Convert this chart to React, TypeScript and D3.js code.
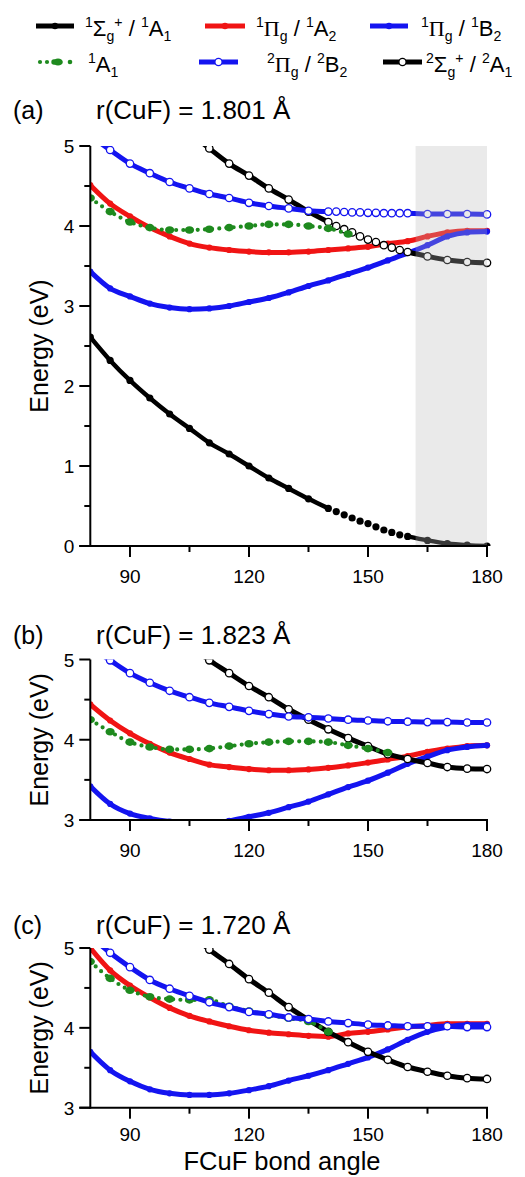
import React from 'react';
import * as d3 from 'd3';

// ---------------- data ----------------
const angles = [80, 85, 90, 95, 100, 105, 110, 115, 120, 125, 130, 135, 140, 145, 150, 155, 160, 165, 170, 175, 180];
const anglesS2 = [105, 110, 115, 120, 125, 130, 135, 140, 145, 150, 155, 160, 165, 170, 175, 180];
const denseAngles = [140, 142, 144, 146, 148, 150, 152, 154, 156, 158, 160];

// panel (a) r = 1.801
const aS1 = [2.61, 2.32, 2.07, 1.85, 1.65, 1.47, 1.29, 1.15, 1.0, 0.85, 0.72, 0.59, 0.47, 0.37, 0.28, 0.19, 0.12, 0.07, 0.03, 0.01, 0.0];
const aS1Dense = [0.47, 0.43, 0.39, 0.35, 0.31, 0.28, 0.24, 0.2, 0.17, 0.14, 0.12];
const aPiA2 = [4.51, 4.28, 4.12, 3.98, 3.87, 3.78, 3.73, 3.7, 3.68, 3.67, 3.67, 3.68, 3.7, 3.72, 3.74, 3.78, 3.81, 3.87, 3.92, 3.94, 3.94];
const aPiB2 = [3.43, 3.22, 3.12, 3.03, 2.98, 2.96, 2.97, 3.0, 3.05, 3.1, 3.17, 3.25, 3.32, 3.4, 3.48, 3.57, 3.66, 3.76, 3.87, 3.92, 3.93];
const aA1 = [4.35, 4.18, 4.05, 3.98, 3.95, 3.95, 3.96, 3.98, 4.0, 4.02, 4.02, 4.0, 3.97, 3.9];
const aPi2B2 = [5.13, 4.95, 4.78, 4.66, 4.55, 4.47, 4.4, 4.35, 4.29, 4.25, 4.22, 4.19, 4.18, 4.17, 4.165, 4.16, 4.16, 4.15, 4.15, 4.15, 4.145];
const aPi2B2Dense = [4.18, 4.18, 4.175, 4.17, 4.17, 4.165, 4.165, 4.16, 4.16, 4.16, 4.16];
const aS2A1 = [5.17, 4.97, 4.78, 4.63, 4.47, 4.33, 4.18, 4.05, 3.94, 3.83, 3.745, 3.675, 3.62, 3.575, 3.55, 3.54];
const aS2A1Dense = [4.05, 4.0, 3.96, 3.92, 3.87, 3.83, 3.8, 3.76, 3.73, 3.7, 3.675];

// panel (b) r = 1.823
const bPiA2 = [4.44, 4.24, 4.08, 3.95, 3.84, 3.76, 3.69, 3.66, 3.635, 3.62, 3.62, 3.63, 3.65, 3.68, 3.715, 3.755, 3.795, 3.85, 3.89, 3.92, 3.93];
const bPiB2 = [3.42, 3.2, 3.08, 3.02, 2.98, 2.96, 2.96, 2.99, 3.04, 3.09, 3.16, 3.23, 3.32, 3.41, 3.49, 3.59, 3.7, 3.79, 3.87, 3.91, 3.93];
const bA1 = [4.25, 4.1, 3.97, 3.91, 3.88, 3.88, 3.89, 3.92, 3.95, 3.97, 3.98, 3.98, 3.97, 3.93, 3.89, 3.84];
const bPi2B2 = [5.15, 4.99, 4.83, 4.71, 4.61, 4.53, 4.46, 4.41, 4.36, 4.32, 4.29, 4.28, 4.265, 4.25, 4.24, 4.23, 4.225, 4.22, 4.22, 4.215, 4.215];
const bS2A1 = [5.17, 4.99, 4.83, 4.67, 4.53, 4.38, 4.25, 4.13, 4.02, 3.92, 3.82, 3.76, 3.71, 3.66, 3.64, 3.635];

// panel (c) r = 1.720
const cPiA2 = [5.0, 4.72, 4.53, 4.38, 4.25, 4.15, 4.08, 4.02, 3.97, 3.94, 3.92, 3.9, 3.89, 3.93, 3.95, 3.98, 4.01, 4.03, 4.05, 4.05, 4.05];
const cPiB2 = [3.7, 3.47, 3.33, 3.23, 3.18, 3.16, 3.16, 3.18, 3.22, 3.27, 3.34, 3.4, 3.47, 3.55, 3.63, 3.73, 3.85, 3.95, 4.01, 4.04, 4.04];
const cA1 = [4.83, 4.62, 4.47, 4.39, 4.36, 4.35, 4.35, 4.27, 4.21, 4.16, 4.12, 4.08, 3.95];
const cPi2B2 = [5.15, 4.94, 4.76, 4.6, 4.49, 4.4, 4.32, 4.26, 4.2, 4.17, 4.13, 4.11, 4.08, 4.06, 4.04, 4.03, 4.02, 4.02, 4.02, 4.01, 4.01];
const cS2A1 = [5.2, 4.98, 4.8, 4.61, 4.44, 4.26, 4.1, 3.95, 3.82, 3.7, 3.6, 3.51, 3.45, 3.4, 3.37, 3.36];

const xMajor = [90, 120, 150, 180];
const xMinor = [105, 135, 165];
const aYMajor = [0, 1, 2, 3, 4, 5];
const aYMinor = [0.5, 1.5, 2.5, 3.5, 4.5];
const bcYMajor = [3, 4, 5];
const bcYMinor = [3.5, 4.5];
const shadeRange = [162, 180];

// ---------------- style ----------------
const FONT = "'Liberation Sans', Arial, sans-serif";
const SERIF = "'Liberation Serif', 'Times New Roman', serif";
const RED = '#f01414';
const BLUE = '#1414f0';
const BLACK = '#000000';
const GREEN = '#1e8a1e';

type P = [number, number];
const zip = (xs: number[], ys: number[]): P[] => ys.map((v, i) => [xs[i], v]);

const x = d3.scaleLinear().domain([80, 180]).range([90.3, 487]);

function Series({ data, kind, color, y, clip, dense, denseDotsOnly, width = 5, r }: any) {
  const line = d3.line<P>().x(d => x(d[0])).y(d => y(d[1])).curve(d3.curveMonotoneX);
  let parts: P[][] = [data];
  if (dense) {
    const a0 = dense[0][0];
    const a1 = dense[dense.length - 1][0];
    parts = [data.filter((d: P) => d[0] <= a0), data.filter((d: P) => d[0] >= a1)];
  }
  const markerR = r ?? (kind === 'open' ? 3.7 : kind === 'green' ? 3.8 : 3.1);
  const marker = (d: P, i: number, key: string) =>
    kind === 'open' ? (
      <circle key={key + i} cx={x(d[0])} cy={y(d[1])} r={markerR} fill="#fff" stroke={color} strokeWidth={1.3} />
    ) : kind === 'green' ? (
      <ellipse key={key + i} cx={x(d[0])} cy={y(d[1])} rx={markerR + 0.8} ry={markerR} fill={color} />
    ) : (
      <circle key={key + i} cx={x(d[0])} cy={y(d[1])} r={markerR} fill={color} />
    );
  return (
    <g clipPath={`url(#${clip})`}>
      {parts.map((pd, k) => (
        <path
          key={'l' + k}
          d={line(pd) || ''}
          fill="none"
          stroke={color}
          strokeWidth={kind === 'green' ? 4.2 : width}
          strokeLinecap={kind === 'green' ? 'round' : 'butt'}
          strokeDasharray={kind === 'green' ? '0 7.2' : undefined}
        />
      ))}
      {dense && !denseDotsOnly && (
        <path d={line(dense) || ''} fill="none" stroke={color} strokeWidth={1.8} />
      )}
      {dense && dense.map((d: P, i: number) => marker(d, i, 'dn'))}
      {parts.map((pd, k) => pd.filter(d => !dense || (d[0] !== dense[0][0] && d[0] !== dense[dense.length - 1][0])).map((d, i) => marker(d, i, 'm' + k)))}
    </g>
  );
}

function Axes({ y, top, bottom, yMajor, yMinor, labelDy }: any) {
  const x0 = x(80);
  const x1 = x(180);
  return (
    <g stroke="#000" strokeWidth={2} fill="none">
      <line x1={x0} y1={top} x2={x0} y2={bottom + 1} />
      <line x1={x0 - 11} y1={bottom} x2={x1 + 1} y2={bottom} />
      {yMajor.map((v: number) => (
        <line key={'ym' + v} x1={x0 - 11} x2={x0} y1={y(v)} y2={y(v)} />
      ))}
      {yMinor.map((v: number) => (
        <line key={'yn' + v} x1={x0 - 6} x2={x0} y1={y(v)} y2={y(v)} />
      ))}
      {xMajor.map(v => (
        <line key={'xm' + v} x1={x(v)} x2={x(v)} y1={bottom} y2={bottom + 11} />
      ))}
      {xMinor.map(v => (
        <line key={'xn' + v} x1={x(v)} x2={x(v)} y1={bottom} y2={bottom + 6} />
      ))}
      <g stroke="none" fill="#000" fontFamily={FONT} fontSize={19}>
        {yMajor.map((v: number) => (
          <text key={'yl' + v} x={x0 - 16} y={y(v) + 7} textAnchor="end">{v}</text>
        ))}
        {xMajor.map(v => (
          <text key={'xl' + v} x={x(v)} y={bottom + labelDy} textAnchor="middle">{v}</text>
        ))}
      </g>
    </g>
  );
}

type Part = [string, 'n' | 'sup' | 'sub' | 'serif'];
function RichText({ x0, y0, parts, size }: { x0: number; y0: number; parts: Part[]; size: number }) {
  let cur = 0;
  const small = size * 0.64;
  return (
    <text x={x0} y={y0} fontFamily={FONT} fontSize={size} fill="#000">
      {parts.map(([t, k], i) => {
        const target = k === 'sup' ? -size * 0.38 : k === 'sub' ? size * 0.26 : 0;
        const dy = target - cur;
        cur = target;
        return (
          <tspan
            key={i}
            dy={dy}
            fontSize={k === 'sup' || k === 'sub' ? small : size}
            fontFamily={k === 'serif' ? SERIF : FONT}
          >
            {t}
          </tspan>
        );
      })}
    </text>
  );
}

function LegendItem({ lx0, lx1, ly, tx, kind, color, parts }: any) {
  const cx = (lx0 + lx1) / 2;
  return (
    <g>
      {kind === 'green' ? (
        <g fill={color}>
          <circle cx={lx0 + 2} cy={ly} r={2.1} />
          <circle cx={lx0 + 9} cy={ly} r={2.1} />
          <circle cx={lx0 + 16} cy={ly} r={2.7} />
          <ellipse cx={cx + 3} cy={ly} rx={4.8} ry={3.6} />
          <circle cx={lx1 - 2} cy={ly} r={2.3} />
        </g>
      ) : (
        <g>
          <line x1={lx0} x2={lx1} y1={ly} y2={ly} stroke={color} strokeWidth={5} />
          {kind === 'open' ? (
            <circle cx={cx} cy={ly} r={3.6} fill="#fff" stroke={color} strokeWidth={1.3} />
          ) : (
            <circle cx={cx} cy={ly} r={3.2} fill={color} />
          )}
        </g>
      )}
      <RichText x0={tx} y0={ly + 9.5} parts={parts} size={22} />
    </g>
  );
}

export default function App() {
  const yA = d3.scaleLinear().domain([0, 5]).range([546, 146]);
  const yB = d3.scaleLinear().domain([3, 5]).range([820, 659.5]);
  const yC = d3.scaleLinear().domain([3, 5]).range([1107.7, 948]);

  const panels = [
    { id: 'a', y: yA, top: 146, bottom: 546, yMajor: aYMajor, yMinor: aYMinor, titleY: 119, label: '(a)', title: 'r(CuF) = 1.801 Å',
      red: aPiA2, blueF: aPiB2, green: aA1, blueO: aPi2B2, blackO: aS2A1, labelDy: 37 },
    { id: 'b', y: yB, top: 659.5, bottom: 820, yMajor: bcYMajor, yMinor: bcYMinor, titleY: 644, label: '(b)', title: 'r(CuF) = 1.823 Å',
      red: bPiA2, blueF: bPiB2, green: bA1, blueO: bPi2B2, blackO: bS2A1, labelDy: 37 },
    { id: 'c', y: yC, top: 948, bottom: 1107.7, yMajor: bcYMajor, yMinor: bcYMinor, titleY: 934, label: '(c)', title: 'r(CuF) = 1.720 Å',
      red: cPiA2, blueF: cPiB2, green: cA1, blueO: cPi2B2, blackO: cS2A1, labelDy: 33 },
  ];

  return (
    <svg width={525} height={1177} style={{ position: 'absolute', left: 0, top: 0, background: '#fff' }}>
      <defs>
        {panels.map(p => (
          <clipPath id={'clip' + p.id} key={p.id}>
            <rect x={x(80)} y={p.top} width={x(180) - x(80) + 6} height={p.bottom - p.top} />
          </clipPath>
        ))}
      </defs>

      {/* legend */}
      <LegendItem lx0={36} lx1={74} ly={26} tx={85} kind="filled" color={BLACK}
        parts={[['1', 'sup'], ['Σ', 'n'], ['g', 'sub'], ['+', 'sup'], [' / ', 'n'], ['1', 'sup'], ['A', 'n'], ['1', 'sub']]} />
      <LegendItem lx0={205} lx1={245} ly={26} tx={256} kind="filled" color={RED}
        parts={[['1', 'sup'], ['Π', 'serif'], ['g', 'sub'], [' / ', 'n'], ['1', 'sup'], ['A', 'n'], ['2', 'sub']]} />
      <LegendItem lx0={370} lx1={408} ly={26} tx={421} kind="filled" color={BLUE}
        parts={[['1', 'sup'], ['Π', 'serif'], ['g', 'sub'], [' / ', 'n'], ['1', 'sup'], ['B', 'n'], ['2', 'sub']]} />
      <LegendItem lx0={38} lx1={72} ly={62} tx={88} kind="green" color={GREEN}
        parts={[['1', 'sup'], ['A', 'n'], ['1', 'sub']]} />
      <LegendItem lx0={199} lx1={238} ly={62} tx={267} kind="open" color={BLUE}
        parts={[['2', 'sup'], ['Π', 'serif'], ['g', 'sub'], [' / ', 'n'], ['2', 'sup'], ['B', 'n'], ['2', 'sub']]} />
      <LegendItem lx0={383} lx1={422} ly={62} tx={426} kind="open" color={BLACK}
        parts={[['2', 'sup'], ['Σ', 'n'], ['g', 'sub'], ['+', 'sup'], [' / ', 'n'], ['2', 'sup'], ['A', 'n'], ['1', 'sub']]} />

      {panels.map(p => {
        const isA = p.id === 'a';
        const clip = 'clip' + p.id;
        return (
          <g key={p.id}>
            <text x={13} y={p.titleY} fontFamily={FONT} fontSize={25}>{p.label}</text>
            <text x={96} y={p.titleY} fontFamily={FONT} fontSize={26}>{p.title}</text>

            <Series data={zip(angles, p.red)} kind="filled" color={RED} y={p.y} clip={clip} />
            <Series data={zip(angles, p.blueF)} kind="filled" color={BLUE} y={p.y} clip={clip} />
            <Series data={zip(anglesS2, p.blackO)} kind="open" color={BLACK} y={p.y} clip={clip}
              dense={isA ? zip(denseAngles, aS2A1Dense) : undefined} />
            <Series data={zip(angles, p.green)} kind="green" color={GREEN} y={p.y} clip={clip} />
            <Series data={zip(angles, p.blueO)} kind="open" color={BLUE} y={p.y} clip={clip}
              dense={isA ? zip(denseAngles, aPi2B2Dense) : undefined} />
            {isA && (
              <Series data={zip(angles, aS1)} kind="filled" color={BLACK} y={p.y} clip={clip} width={4.5} r={3.6}
                dense={zip(denseAngles, aS1Dense)} denseDotsOnly />
            )}
            {isA && (
              <rect x={x(shadeRange[0])} y={p.top} width={x(shadeRange[1]) - x(shadeRange[0])} height={p.bottom - p.top}
                fill="#b8b8b8" opacity={0.3} />
            )}
            <Axes y={p.y} top={p.top} bottom={p.bottom} yMajor={p.yMajor} yMinor={p.yMinor} labelDy={p.labelDy} />
            <text transform={`translate(48,${(p.top + p.bottom) / 2}) rotate(-90)`} textAnchor="middle"
              fontFamily={FONT} fontSize={25}>Energy (eV)</text>
          </g>
        );
      })}
      <text x={282} y={1170} textAnchor="middle" fontFamily={FONT} fontSize={25.5}>FCuF bond angle</text>
    </svg>
  );
}
